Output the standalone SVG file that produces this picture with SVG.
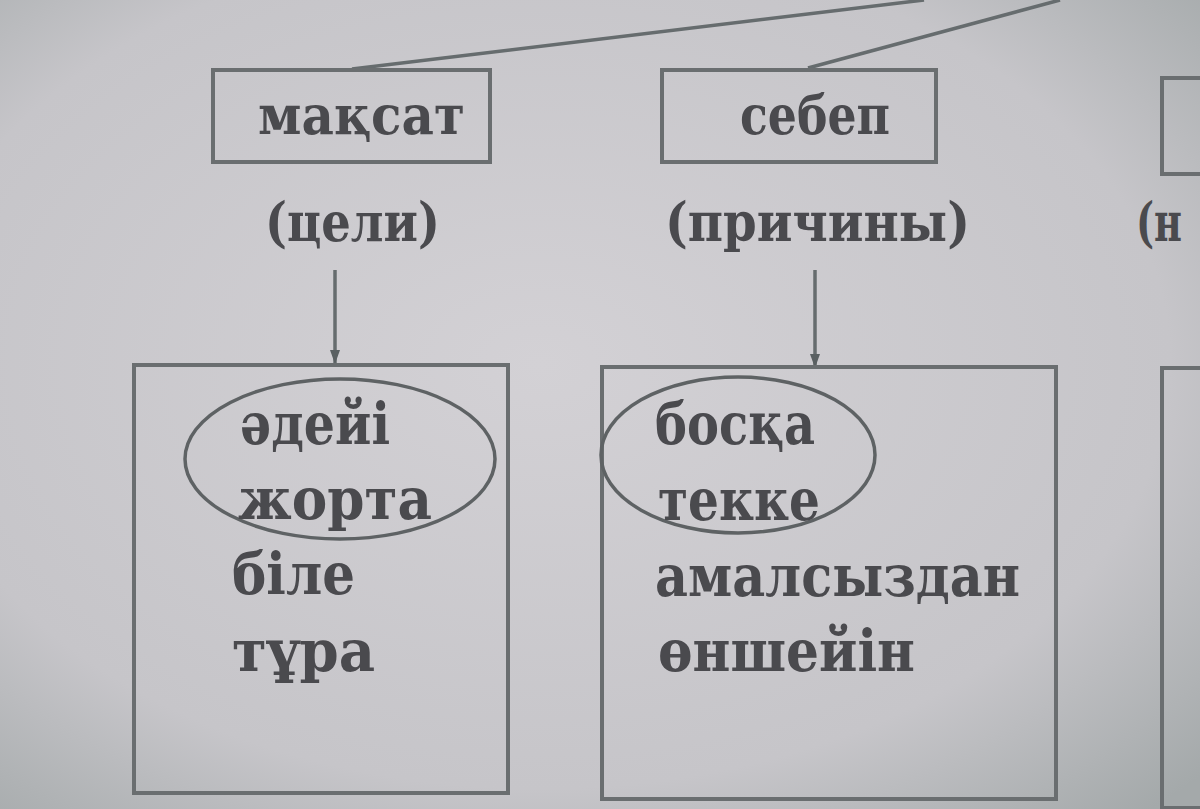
<svg xmlns="http://www.w3.org/2000/svg" width="1200" height="809" viewBox="0 0 1200 809">
<defs>
<radialGradient id="bg" cx="0.45" cy="0.45" r="0.75">
<stop offset="0" stop-color="#d3d1d5"/>
<stop offset="0.7" stop-color="#c6c5c9"/>
<stop offset="1" stop-color="#a4a9aa"/>
</radialGradient>
<marker id="arr" viewBox="0 0 14 10" refX="14" refY="5" markerWidth="14" markerHeight="10" markerUnits="userSpaceOnUse" orient="auto">
<path d="M0,0 L14,5 L0,10 Z" fill="#5a6062"/>
</marker>
<style>
.box{fill:none;stroke:#6a6e70;stroke-width:4}
.ell{fill:none;stroke:#5e6264;stroke-width:3.5}
.ln{fill:none;stroke:#666c6e;stroke-width:3.5}
.t{font-family:"DejaVu Serif","Liberation Serif",serif;font-weight:bold;fill:#4a4a4e}
.h{font-size:54px}
.w{font-size:58px}
</style>
</defs>
<rect width="1200" height="809" fill="url(#bg)"/>
<g id="connectors">
<path class="ln" d="M352,69 L924,0"/>
<path class="ln" d="M808,68 L1060,0"/>
<path class="ln" d="M335,270 L335,364" marker-end="url(#arr)"/>
<path class="ln" d="M815,270 L815,368" marker-end="url(#arr)"/>
</g>
<g id="node-maksat">
<rect class="box" x="213" y="70" width="277" height="92"/>
<text class="t h" x="258" y="134" textLength="207" lengthAdjust="spacingAndGlyphs">мақсат</text>
<text class="t h" x="265" y="241" textLength="175" lengthAdjust="spacingAndGlyphs">(цели)</text>
</g>
<g id="node-sebep">
<rect class="box" x="662" y="70" width="274" height="92"/>
<text class="t h" x="740" y="134" textLength="150" lengthAdjust="spacingAndGlyphs">себеп</text>
<text class="t h" x="665" y="241" textLength="305" lengthAdjust="spacingAndGlyphs">(причины)</text>
</g>
<g id="node-right-partial">
<rect class="box" x="1162" y="78" width="60" height="96"/>
<text class="t h" x="1136" y="241" textLength="46" lengthAdjust="spacingAndGlyphs">(н</text>
<rect class="box" x="1162" y="368" width="60" height="440"/>
</g>
<g id="list-maksat">
<rect class="box" x="134" y="365" width="374" height="428"/>
<ellipse class="ell" cx="340" cy="459" rx="155" ry="80"/>
<text class="t w" x="240" y="444" textLength="150" lengthAdjust="spacingAndGlyphs">әдейі</text>
<text class="t w" x="238" y="519" textLength="194" lengthAdjust="spacingAndGlyphs">жорта</text>
<text class="t w" x="232" y="594" textLength="123" lengthAdjust="spacingAndGlyphs">біле</text>
<text class="t w" x="232" y="671" textLength="143" lengthAdjust="spacingAndGlyphs">тұра</text>
</g>
<g id="list-sebep">
<rect class="box" x="602" y="367" width="454" height="432"/>
<ellipse class="ell" cx="738" cy="455" rx="137" ry="78"/>
<text class="t w" x="655" y="444" textLength="160" lengthAdjust="spacingAndGlyphs">босқа</text>
<text class="t w" x="658" y="520" textLength="162" lengthAdjust="spacingAndGlyphs">текке</text>
<text class="t w" x="655" y="596" textLength="365" lengthAdjust="spacingAndGlyphs">амалсыздан</text>
<text class="t w" x="658" y="671" textLength="257" lengthAdjust="spacingAndGlyphs">өншейін</text>
</g>
</svg>
